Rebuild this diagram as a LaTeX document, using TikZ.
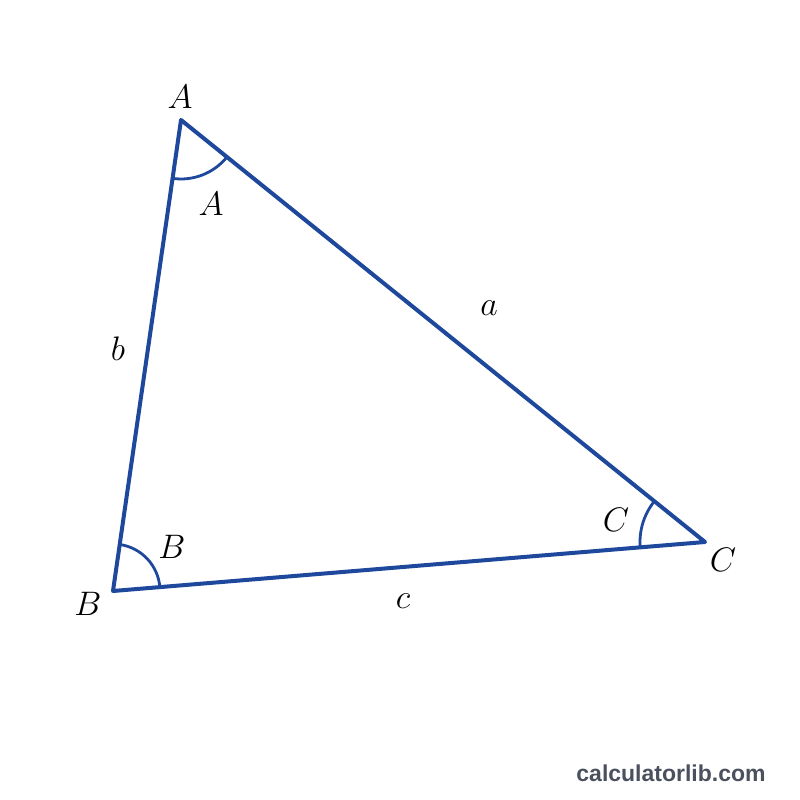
\RequirePackage{fix-cm}
\documentclass[tikz,border=0pt]{standalone}
\usepackage{fontspec}
\usetikzlibrary{angles}
\newfontfamily\wmfont{Liberation Sans}
\definecolor{triblue}{RGB}{30,72,156}
\definecolor{wmgray}{RGB}{74,80,94}
\begin{document}
\begin{tikzpicture}[x=1pt,y=1pt,
  side/.style={draw=triblue,line width=4pt,line join=round},
  arcst/.style={draw=triblue,line width=2.8pt},
  lab/.style={font=\fontsize{34}{40}\selectfont,inner sep=0pt}]
\useasboundingbox (0,0) rectangle (800,800);
\fill[white] (0,0) rectangle (800,800);
\coordinate (A) at (181,680);
\coordinate (B) at (113,209);
\coordinate (C) at (705,258);
\pic[arcst, angle radius=59pt] {angle = B--A--C};
\pic[arcst, angle radius=47pt] {angle = C--B--A};
\pic[arcst, angle radius=65pt] {angle = A--C--B};
\draw[side] (A) -- (B) -- (C) -- cycle;
\node[lab] (lA) at (180,703) {$A$};
\node[lab] (lAi) at (211,596) {$A$};
\node[lab] (lb) at (118,451) {$b$};
\node[lab] (la) at (489,492) {$a$};
\node[lab] (lB) at (88,196) {$B$};
\node[lab] (lBi) at (172,253) {$B$};
\node[lab] (lc) at (403,199) {$c$};
\node[lab] (lCi) at (616,280) {$C$};
\node[lab] (lC) at (723,240) {$C$};
\node[inner sep=0pt,text=wmgray,font=\wmfont\bfseries\fontsize{23}{26}\selectfont] (wm) at (671,27) {calculatorlib.com};
\end{tikzpicture}
\end{document}
